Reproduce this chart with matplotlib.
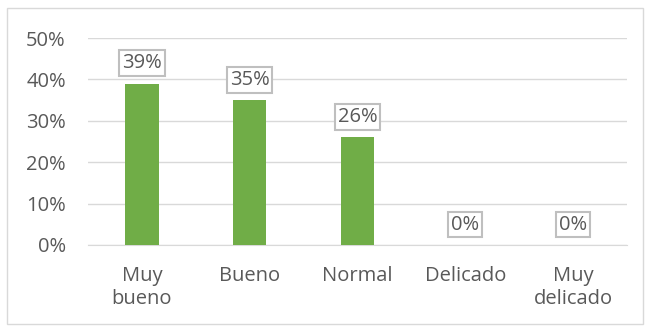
import matplotlib.pyplot as plt
from matplotlib.patches import Rectangle

categories = ['Muy\nbueno', 'Bueno', 'Normal', 'Delicado', 'Muy\ndelicado']
values = [39, 35, 26, 0, 0]
yticks = [0, 10, 20, 30, 40, 50]

plt.rcParams['font.family'] = ['Open Sans', 'DejaVu Sans']
text_col = '#595959'

fig = plt.figure(figsize=(6.5, 3.31), dpi=100)
fig.patches.append(Rectangle((7 / 650, 7 / 331), 636 / 650, 316 / 331, transform=fig.transFigure,
                             fill=False, edgecolor='#D9D9D9', linewidth=1))
ax = fig.add_axes([88 / 650, 86 / 331, 539 / 650, 207 / 331])

x = range(len(categories))
ax.bar(x, values, width=0.31, color='#70AD47', zorder=3)

for xi, v in zip(x, values):
    ax.annotate(f'{v}%', (xi, v), xytext=(0, 7.5), textcoords='offset points',
                ha='center', va='bottom', fontsize=14.5, color=text_col,
                bbox=dict(boxstyle='square,pad=0.14', fc='white', ec='#BFBFBF', lw=1.5), zorder=4)

ax.set_xlim(-0.5, len(categories) - 0.5)
ax.set_ylim(0, 50)
ax.set_yticks(yticks)
ax.set_yticklabels([f'{t}%' for t in yticks])
ax.set_xticks(list(x))
ax.set_xticklabels(categories, linespacing=1.2)
ax.tick_params(axis='both', length=0, labelsize=14.5, colors=text_col)
ax.tick_params(axis='y', pad=16)
ax.tick_params(axis='x', pad=15)
ax.grid(axis='y', color='#D9D9D9', linewidth=1, zorder=0)
for s in ['top', 'right', 'left']:
    ax.spines[s].set_visible(False)
ax.spines['bottom'].set_color('#D9D9D9')

fig.savefig('out.png', dpi=100)
